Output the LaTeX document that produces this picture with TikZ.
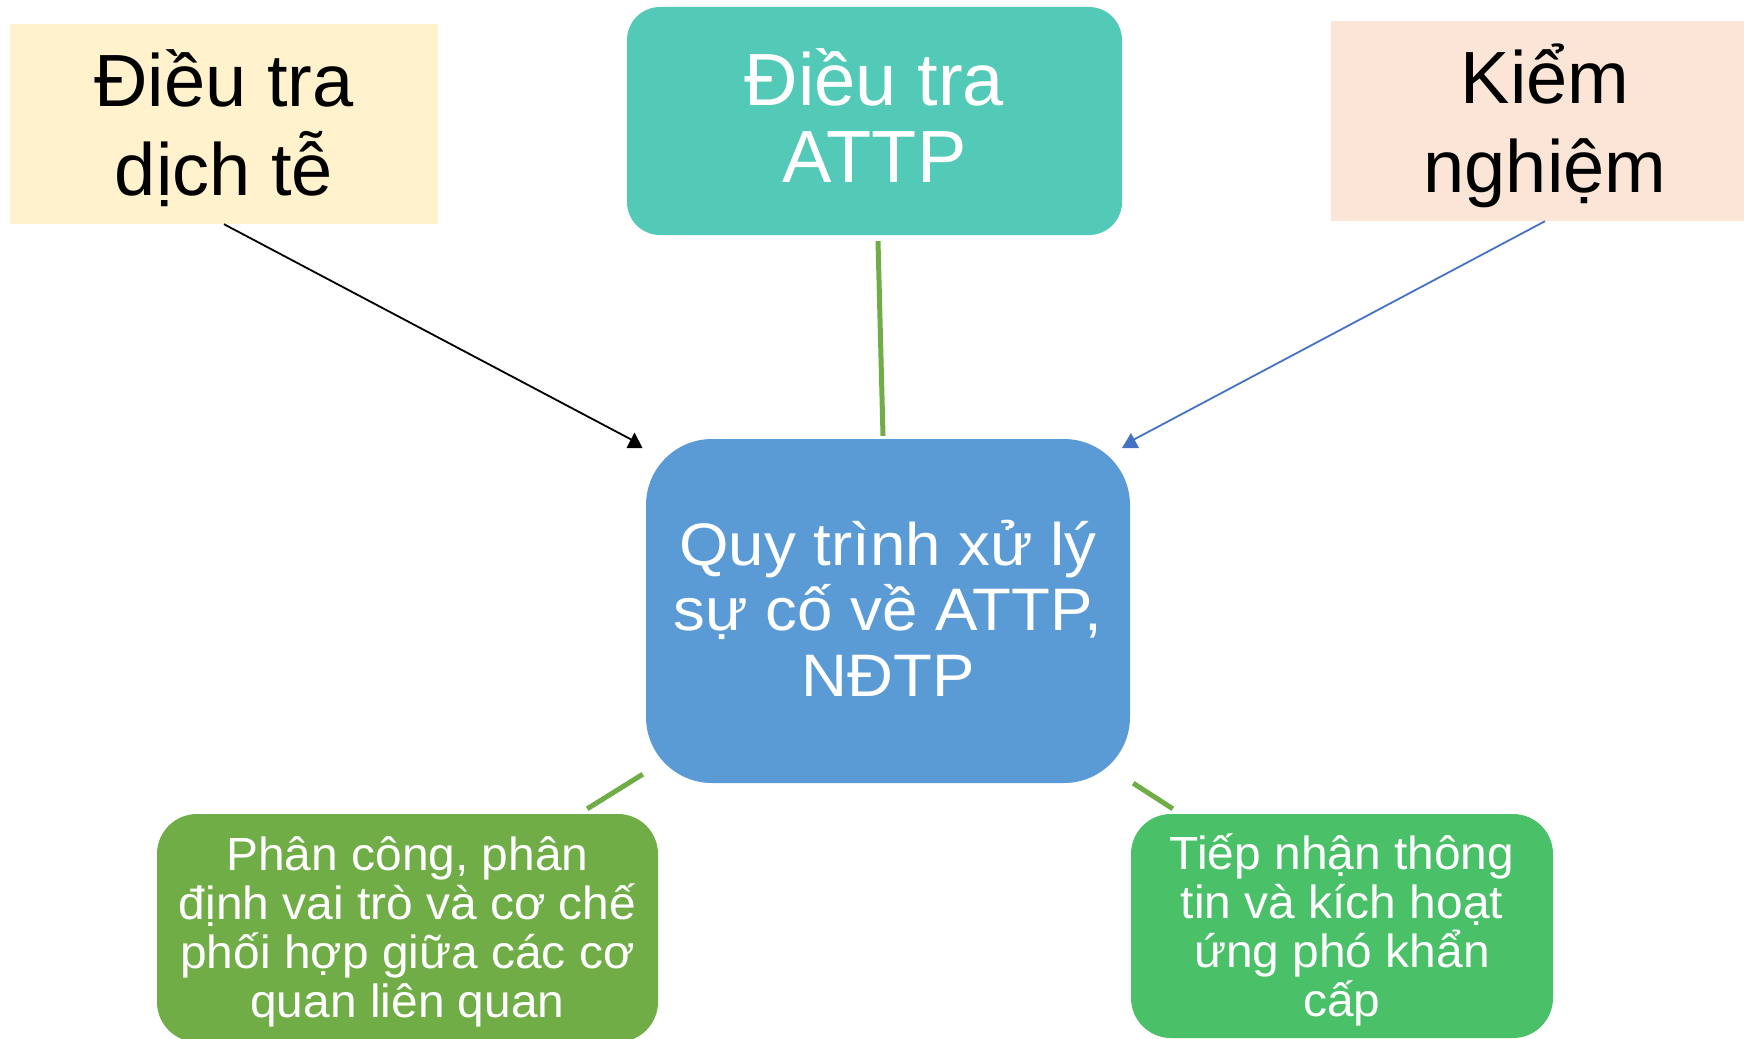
\documentclass[tikz,border=0pt]{standalone}
\usepackage{fontspec}
\setmainfont{Liberation Sans}
\newfontfamily\centrefont[FakeStretch=1.06]{Liberation Sans}
\newfontfamily\lowfont[FakeStretch=1.03]{Liberation Sans}
\usetikzlibrary{calc}
\definecolor{cYellow}{HTML}{FFF2CC}
\definecolor{cTeal}{HTML}{53C9B7}
\definecolor{cPeach}{HTML}{FBE5D6}
\definecolor{cBlue}{HTML}{5B9BD5}
\definecolor{cGreenA}{HTML}{70AD47}
\definecolor{cGreenB}{HTML}{4AC068}
\definecolor{cLineBlue}{HTML}{4472C4}
\tikzset{
  shapebase/.style={inner sep=0pt},
  txt/.style={inner sep=0pt, align=center},
  topbox/.style={shapebase, minimum width=428pt, minimum height=200pt},
  toptxt/.style={txt, font=\fontsize{74}{89}\selectfont},
  lowtxt/.style={txt, text=white, font=\lowfont\fontsize{46.5}{49}\selectfont},
  greenline/.style={draw=cGreenA, line width=5pt},
  thinarrow/.style={line width=1.8pt},
}
\begin{document}
\begin{tikzpicture}[x=1pt,y=-1pt]
\useasboundingbox (0,0) rectangle (1744,1038);
\clip (0,0) rectangle (1744,1038);

% boxes
\node[topbox, fill=cYellow] (tl) at (224,124) {};
\node[shapebase, fill=cTeal, rounded corners=33pt,
  minimum width=495pt, minimum height=228pt] (tm) at (874.5,121) {};
\node[topbox, fill=cPeach] (tr) at (1545,121) {};
\node[shapebase, fill=cBlue, rounded corners=66pt,
  minimum width=484pt, minimum height=344pt] (c) at (888,611) {};
\node[shapebase, fill=cGreenA, rounded corners=40pt,
  minimum width=501pt, minimum height=228pt] (bl) at (407.5,928) {};
\node[shapebase, fill=cGreenB, rounded corners=40pt,
  minimum width=422pt, minimum height=224pt] (br) at (1342,926) {};

% texts
\node[toptxt, text=black] (tltxt) at ([yshift=-4pt]tl.center) {Điều tra\\dịch tễ};
\node[txt, text=white, font=\fontsize{74}{77}\selectfont] (tmtxt)
  at ([yshift=5pt]tm.center) {Điều tra\\ATTP};
\node[toptxt, text=black] (trtxt) at ([yshift=-5pt]tr.center) {Kiểm\\nghiệm};
\node[txt, text=white, font=\centrefont\fontsize{60}{65.5}\selectfont] (ctxt)
  at ([yshift=3pt]c.center) {Quy trình xử lý\\sự cố về ATTP,\\NĐTP};
\node[lowtxt] (bltxt) at ([yshift=-4pt]bl.center)
  {Phân công, phân\\định vai trò và cơ chế\\phối hợp giữa các cơ\\quan liên quan};
\node[lowtxt] (brtxt) at ([yshift=-4pt]br.center)
  {Tiếp nhận thông\\tin và kích hoạt\\ứng phó khẩn\\cấp};

% arrows into the centre box
\coordinate (a1) at (634,441);
\coordinate (a2) at (1133,440);
\draw[thinarrow, black] (tl.south) -- (a1);
\fill[black] (626.5,448) -- (642.5,448) -- (634.5,432.5) -- cycle;
\draw[thinarrow, cLineBlue] (tr.south) -- (a2);
\fill[cLineBlue] (1122,448) -- (1139,448) -- (1131,433) -- cycle;

% green connectors
\draw[greenline] ($(tm.south)+(3.5,6)$) -- ($(c.north)+(-5,-3)$);
\draw[greenline] ($(c.south west)+(-3,-9)$) -- ($(bl.north east)+(-71,-5)$);
\draw[greenline] ($(c.south east)+(3,0)$) -- ($(br.north west)+(42,-5)$);
\end{tikzpicture}
\end{document}
